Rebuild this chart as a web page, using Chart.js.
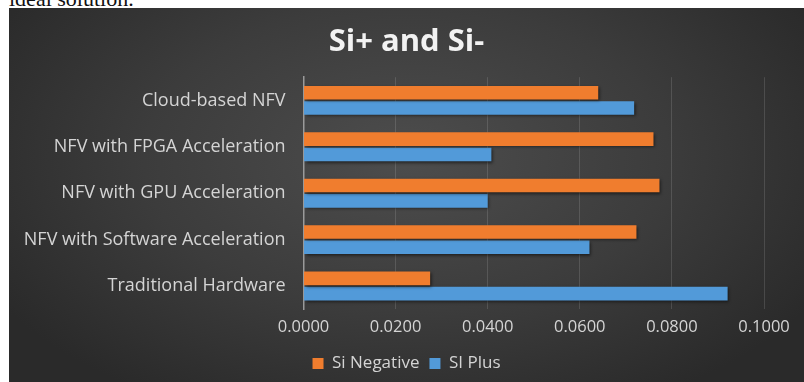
<!DOCTYPE html>
<html>
<head>
<meta charset="utf-8">
<script src="https://cdn.jsdelivr.net/npm/chart.js@4/dist/chart.umd.min.js"></script>
<style>
  html, body { margin: 0; padding: 0; background: #ffffff; width: 804px; height: 382px; overflow: hidden; }
  #note { position: absolute; left: 9px; top: -14px; font-family: "Liberation Serif", "DejaVu Serif", serif; font-size: 22px; color: #111; }
  #wrap { position: absolute; left: 9px; top: 8px; width: 795px; height: 374px;
          background: radial-gradient(ellipse 60% 75% at 50% 40%, #4d4d4d 0%, #3c3c3c 55%, #2a2a2a 100%); }
  canvas { display: block; }
</style>
</head>
<body>
<div id="note">ideal solution.</div>
<div id="wrap"><canvas id="c" width="795" height="374"></canvas></div>
<script>
const categories = ["Cloud-based NFV", "NFV with FPGA Acceleration", "NFV with GPU Acceleration", "NFV with Software Acceleration", "Traditional Hardware"];
const siNegative = [0.0640, 0.0760, 0.0773, 0.0723, 0.0275];
const siPlus = [0.0718, 0.0408, 0.0400, 0.0621, 0.0921];
const xTicks = [0, 0.02, 0.04, 0.06, 0.08, 0.1];
const seriesNames = ["Si Negative", "SI Plus"];
const titleText = "Si+ and Si-";

const shadowPlugin = {
  id: 'barShadow',
  beforeDatasetsDraw(chart) {
    const ctx = chart.ctx;
    ctx.save();
    ctx.shadowColor = 'rgba(0,0,0,0.55)';
    ctx.shadowOffsetX = 1.5;
    ctx.shadowOffsetY = 1.5;
    ctx.shadowBlur = 3;
  },
  afterDatasetsDraw(chart) { chart.ctx.restore(); }
};

const FONT = '"Open Sans", "Noto Sans", sans-serif';
const TXT = '#d4d4d4';

new Chart(document.getElementById('c'), {
  type: 'bar',
  data: {
    labels: categories,
    datasets: [
      { label: seriesNames[0], data: siNegative, backgroundColor: '#f07d2e', borderWidth: 0, categoryPercentage: 0.66, barPercentage: 0.89 },
      { label: seriesNames[1], data: siPlus, backgroundColor: '#529ad9', borderWidth: 0, categoryPercentage: 0.66, barPercentage: 0.89 }
    ]
  },
  options: {
    indexAxis: 'y',
    responsive: false,
    animation: false,
    layout: { padding: { left: 0, right: 0, top: 0, bottom: 0 } },
    plugins: {
      title: { display: true, text: titleText, color: '#f2f2f2', font: { family: FONT, size: 31, weight: 'bold' }, padding: { top: 16, bottom: 16 } },
      legend: {
        position: 'bottom',
        labels: { color: TXT, font: { family: FONT, size: 17 }, boxWidth: 11, boxHeight: 11, padding: 10 }
      },
      tooltip: { enabled: false }
    },
    scales: {
      x: {
        min: 0, max: 0.1,
        afterBuildTicks(scale) { scale.ticks = xTicks.map(v => ({ value: v })); },
        afterFit(scale) { scale.paddingRight = 40; },
        ticks: { color: TXT, font: { family: FONT, size: 16.5 }, padding: 8, callback: v => Number(v).toFixed(4) },
        grid: { color: 'rgba(255,255,255,0.13)', drawTicks: false },
        border: { display: false }
      },
      y: {
        afterFit(scale) { scale.width = 294.5; },
        ticks: { color: TXT, font: { family: FONT, size: 18 }, padding: 18 },
        grid: { display: false, drawTicks: false },
        border: { display: true, color: '#9a9a9a', width: 1.5 }
      }
    }
  },
  plugins: [shadowPlugin]
});
</script>
</body>
</html>
